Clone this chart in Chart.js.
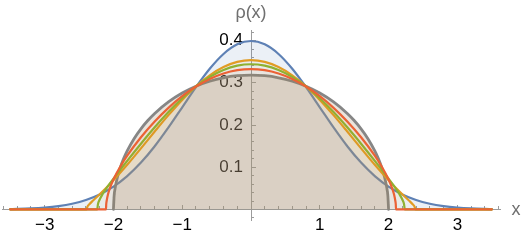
<!DOCTYPE html>
<html>
<head>
<meta charset="utf-8">
<script src="https://cdn.jsdelivr.net/npm/chart.js@4"></script>
<style>
  html, body { margin: 0; padding: 0; background: #fff; }
  #wrap { width: 523px; height: 240px; }
</style>
</head>
<body>
<div id="wrap"><canvas id="chart" width="523" height="240"></canvas></div>
<script>
// ===== DATA =====
const blueX = [-3.5, -3.4, -3.2, -3.0, -2.8, -2.6, -2.4, -2.2, -2.0, -1.8, -1.6, -1.4, -1.2, -1.0, -0.8, -0.6, -0.4, -0.2, 0,
               0.2, 0.4, 0.6, 0.8, 1.0, 1.2, 1.4, 1.6, 1.8, 2.0, 2.2, 2.4, 2.6, 2.8, 3.0, 3.2, 3.4, 3.5];
const blueY = [0.00087, 0.00123, 0.00238, 0.00443, 0.00792, 0.01358, 0.02239, 0.03547, 0.05399, 0.07895, 0.11092, 0.14973, 0.19419, 0.24197, 0.28969, 0.33322, 0.36827, 0.39104, 0.39894,
               0.39104, 0.36827, 0.33322, 0.28969, 0.24197, 0.19419, 0.14973, 0.11092, 0.07895, 0.05399, 0.03547, 0.02239, 0.01358, 0.00792, 0.00443, 0.00238, 0.00123, 0.00087];

const orangeX = [-3.5, -2.39, -2.38, -2.35, -2.3, -2.2, -2.1, -2.0, -1.8, -1.6, -1.4, -1.2, -1.0, -0.8, -0.6, -0.4, -0.2, 0,
                 0.2, 0.4, 0.6, 0.8, 1.0, 1.2, 1.4, 1.6, 1.8, 2.0, 2.1, 2.2, 2.3, 2.35, 2.38, 2.39, 3.5];
const orangeY = [0, 0, 0.00587, 0.01239, 0.0206, 0.03599, 0.052, 0.06899, 0.10565, 0.14471, 0.18452, 0.22334, 0.25948, 0.29139, 0.31773, 0.33734, 0.34949, 0.35358,
                 0.34949, 0.33734, 0.31773, 0.29139, 0.25948, 0.22334, 0.18452, 0.14471, 0.10565, 0.06899, 0.052, 0.03599, 0.0206, 0.01239, 0.00587, 0, 0];

const greenX = [-3.5, -2.236, -2.225, -2.2, -2.15, -2.1, -2.0, -1.8, -1.6, -1.4, -1.2, -1.0, -0.8, -0.6, -0.4, -0.2, 0,
                0.2, 0.4, 0.6, 0.8, 1.0, 1.2, 1.4, 1.6, 1.8, 2.0, 2.1, 2.15, 2.2, 2.225, 2.236, 3.5];
const greenY = [0, 0, 0.01264, 0.02345, 0.03825, 0.05059, 0.07298, 0.11508, 0.15576, 0.19456, 0.23075, 0.26327, 0.29122, 0.3138, 0.3304, 0.34054, 0.34394,
                0.34054, 0.3304, 0.3138, 0.29122, 0.26327, 0.23075, 0.19456, 0.15576, 0.11508, 0.07298, 0.05059, 0.03825, 0.02345, 0.01264, 0, 0];

const redX = [-3.5, -2.108, -2.105, -2.1, -2.08, -2.05, -2.0, -1.9, -1.8, -1.6, -1.4, -1.2, -1.0, -0.8, -0.6, -0.4, -0.2, 0,
              0.2, 0.4, 0.6, 0.8, 1.0, 1.2, 1.4, 1.6, 1.8, 1.9, 2.0, 2.05, 2.08, 2.1, 2.105, 2.108, 3.5];
const redY = [0, 0, 0.01174, 0.01884, 0.0352, 0.05115, 0.07097, 0.10168, 0.12722, 0.17088, 0.20826, 0.24064, 0.26827, 0.29113, 0.30909, 0.32205, 0.32986, 0.33247,
              0.32986, 0.32205, 0.30909, 0.29113, 0.26827, 0.24064, 0.20826, 0.17088, 0.12722, 0.10168, 0.07097, 0.05115, 0.0352, 0.01884, 0.01174, 0, 0];

const grayX = [-2, -1.99, -1.97, -1.94, -1.9, -1.85, -1.8, -1.7, -1.6, -1.5, -1.4, -1.2, -1.0, -0.8, -0.6, -0.4, -0.2, 0,
               0.2, 0.4, 0.6, 0.8, 1.0, 1.2, 1.4, 1.5, 1.6, 1.7, 1.8, 1.85, 1.9, 1.94, 1.97, 1.99, 2];
const grayY = [0, 0.03179, 0.05493, 0.07738, 0.09939, 0.12095, 0.13875, 0.16768, 0.19099, 0.21054, 0.22732, 0.25465, 0.27566, 0.29174, 0.30365, 0.31188, 0.31671, 0.31831,
               0.31671, 0.31188, 0.30365, 0.29174, 0.27566, 0.25465, 0.22732, 0.21054, 0.19099, 0.16768, 0.13875, 0.12095, 0.09939, 0.07738, 0.05493, 0.03179, 0];

const xTickValues = [-3, -2, -1, 1, 2, 3];
const yTickValues = [0.1, 0.2, 0.3, 0.4];
const X_MIN = -3.62, X_MAX = 3.62;
const Y_MIN = -0.025, Y_MAX = 0.425;

// ===== STYLE =====
const AXIS = '#9c9c9c';
const FONT = { family: '"Liberation Sans", Arial, sans-serif', size: 17 };

const pts = (xs, ys) => xs.map((x, i) => ({ x, y: ys[i] }));
const fmt = v => (v < 0 ? '\u2212' + Math.abs(v) : String(v));

function curve(label, xs, ys, color, fill, width, order) {
  return {
    label, data: pts(xs, ys), order,
    borderColor: color, backgroundColor: fill, fill: 'origin',
    borderWidth: width, pointRadius: 0, pointHoverRadius: 0,
    cubicInterpolationMode: 'monotone', borderJoinStyle: 'round', borderCapStyle: 'round'
  };
}

const minorTicks = (from, to, step) => {
  const out = [];
  for (let v = from; v <= to + 1e-9; v += step) out.push({ value: Math.round(v * 1000) / 1000 });
  return out;
};

const noSize = s => { s.width = 0; s.height = 0; };

// y labels sit on a 'left' scale that is slid next to the x = 0 axis after layout
const yLabelDock = {
  id: 'yLabelDock',
  afterLayout(chart) {
    const s = chart.scales.yLabels;
    const x0 = chart.scales.x.getPixelForValue(0);
    s.right = x0 - 8;
    s.left = s.right - 60;
  }
};

const axisTitles = {
  id: 'axisTitles',
  afterDraw(chart) {
    const { ctx } = chart;
    const x0 = chart.scales.x.getPixelForValue(0);
    const y0 = chart.scales.y.getPixelForValue(0);
    ctx.save();
    ctx.fillStyle = '#707070';
    ctx.font = '18px "Liberation Sans", Arial, sans-serif';
    ctx.textAlign = 'center';
    ctx.textBaseline = 'middle';
    ctx.fillText('\u03c1(x)', x0, 13);
    ctx.fillText('x', chart.chartArea.right + 16, y0 + 1);
    ctx.restore();
  }
};

new Chart(document.getElementById('chart'), {
  type: 'line',
  data: {
    datasets: [
      curve('q=0.1', redX, redY, '#eb6235', 'rgba(235,98,53,0.04)', 2.2, 1),
      curve('q=0.2', greenX, greenY, '#8fb131', 'rgba(143,177,49,0.04)', 2.2, 2),
      curve('q=0.3', orangeX, orangeY, '#e19c24', 'rgba(225,156,36,0.04)', 2.2, 3),
      curve('semicircle', grayX, grayY, '#868686', 'rgba(178,155,125,0.27)', 2.8, 4),
      curve('Gaussian', blueX, blueY, '#5e81b5', 'rgba(94,129,181,0.12)', 2.2, 5)
    ]
  },
  options: {
    responsive: false,
    devicePixelRatio: 1,
    animation: false,
    layout: { padding: { left: 2, right: 23, top: 30, bottom: 20 } },
    plugins: { legend: { display: false }, tooltip: { enabled: false } },
    scales: {
      x: {
        type: 'linear', min: X_MIN, max: X_MAX, position: { y: 0 },
        afterFit: noSize,
        afterBuildTicks: s => { s.ticks = xTickValues.map(v => ({ value: v })); },
        grid: { drawOnChartArea: false, drawTicks: true, tickLength: -5, tickColor: AXIS, tickWidth: 1 },
        border: { display: true, color: AXIS, width: 1 },
        ticks: { color: '#000', font: FONT, padding: 11, maxRotation: 0, autoSkip: false, callback: fmt }
      },
      xMinor: {
        axis: 'x', type: 'linear', min: X_MIN, max: X_MAX, position: { y: 0 },
        afterFit: noSize,
        afterBuildTicks: s => { s.ticks = minorTicks(-3.6, 3.6, 0.2); },
        grid: { drawOnChartArea: false, drawTicks: true, tickLength: -3, tickColor: AXIS, tickWidth: 1 },
        border: { display: false },
        ticks: { display: false }
      },
      y: {
        type: 'linear', min: Y_MIN, max: Y_MAX, position: { x: 0 },
        afterFit: noSize,
        afterBuildTicks: s => { s.ticks = yTickValues.map(v => ({ value: v })); },
        grid: { drawOnChartArea: false, drawTicks: true, tickLength: -5, tickColor: AXIS, tickWidth: 1 },
        border: { display: true, color: AXIS, width: 1 },
        ticks: { display: false }
      },
      yMinor: {
        axis: 'y', type: 'linear', min: Y_MIN, max: Y_MAX, position: { x: 0 },
        afterFit: noSize,
        afterBuildTicks: s => { s.ticks = minorTicks(-0.02, 0.42, 0.02); },
        grid: { drawOnChartArea: false, drawTicks: true, tickLength: -3, tickColor: AXIS, tickWidth: 1 },
        border: { display: false },
        ticks: { display: false }
      },
      yLabels: {
        axis: 'y', type: 'linear', min: Y_MIN, max: Y_MAX, position: 'left',
        afterFit: noSize,
        afterBuildTicks: s => { s.ticks = yTickValues.map(v => ({ value: v })); },
        grid: { display: false, drawTicks: false },
        border: { display: false },
        ticks: { color: '#000', font: FONT, padding: 0, autoSkip: false, callback: fmt }
      }
    }
  },
  plugins: [yLabelDock, axisTitles]
});
</script>
</body>
</html>
